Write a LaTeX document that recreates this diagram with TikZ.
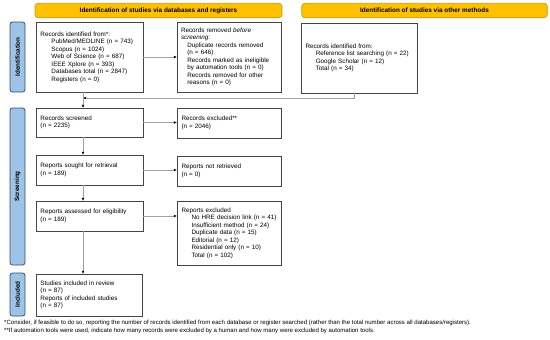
\documentclass[tikz,border=0pt]{standalone}
\usepackage{fontspec}
\setmainfont{Liberation Sans}
\usetikzlibrary{arrows.meta}
\definecolor{hdr}{HTML}{FFC000}
\definecolor{hdrline}{HTML}{C89B10}
\definecolor{side}{HTML}{9DC3E6}
\definecolor{sideline}{HTML}{34506E}
\definecolor{boxline}{HTML}{444444}
\definecolor{conn}{HTML}{A0A0A0}
\begin{document}
\begin{tikzpicture}[x=1pt,y=-1pt,
  box/.style={draw=boxline, line width=0.8pt, fill=white, anchor=north west,
    inner xsep=4.5pt, inner ysep=0pt, outer sep=0pt, align=left,
    font=\fontsize{6.3}{7.5}\selectfont},
  hdrbox/.style={draw=hdrline, fill=hdr, line width=0.6pt, rounded corners=3pt,
    minimum height=14.5pt, inner sep=0pt, outer sep=0pt,
    font=\bfseries\fontsize{6.4}{7.5}\selectfont},
  sidebar/.style={draw=sideline, fill=side, line width=0.8pt, rounded corners=2.5pt,
    rotate=90, minimum height=15pt, inner sep=0pt, outer sep=0pt,
    font=\bfseries\fontsize{6.3}{7.5}\selectfont},
  arr/.style={draw=conn, line width=0.7pt, -{Latex[length=3.2pt,width=2.8pt,color=black]}},
  note/.style={anchor=west, inner sep=0pt, font=\fontsize{6.05}{7}\selectfont}
]
\useasboundingbox (0,0) rectangle (550,340);

% headers
\node[hdrbox, minimum width=247pt] (h1) at (158.5,10.5) {Identification of studies via databases and registers};
\node[hdrbox, minimum width=245.5pt] (h2) at (424.5,10.5) {Identification of studies via other methods};

% side bars
\node[sidebar, minimum width=70pt] (s1) at (17.5,57) {Identification};
\node[sidebar, minimum width=157pt] (s2) at (17.5,186.5) {Screening};
\node[sidebar, minimum width=43pt] (s3) at (17.5,294.5) {Included};

% identification
\node[box, text width=98pt, minimum height=70pt] (b1) at (36,22)
 {Records identified from*:\\
 \hspace*{11pt}PubMed/MEDLINE (n = 743)\\
 \hspace*{11pt}Scopus (n = 1024)\\
 \hspace*{11pt}Web of Science (n = 687)\\
 \hspace*{11pt}IEEE Xplore (n = 393)\\
 \hspace*{11pt}Databases total (n = 2847)\\
 \hspace*{11pt}Registers (n = 0)};
\node[box, text width=96pt, minimum height=70pt, inner xsep=4pt] (b2) at (177,22)
 {Records removed \textit{before}\\
 \textit{screening}:\\
 \hspace*{6.3pt}Duplicate records removed\\
 \hspace*{6.3pt}(n = 646)\\
 \hspace*{6.3pt}Records marked as ineligible\\
 \hspace*{6.3pt}by automation tools (n = 0)\\
 \hspace*{6.3pt}Records removed for other\\
 \hspace*{6.3pt}reasons (n = 0)};
\node[box, text width=107pt, minimum height=70pt] (b3) at (301,23)
 {Records identified from:\\
 \hspace*{10.3pt}Reference list searching (n = 22)\\
 \hspace*{10.3pt}Google Scholar (n = 12)\\
 \hspace*{10.3pt}Total (n = 34)};

% screening
\node[box, text width=98pt, minimum height=29pt] (sc) at (36,108)
 {Records screened\\(n = 2235)};
\node[box, text width=95pt, minimum height=30pt] (ex) at (177,108)
 {Records excluded**\\(n = 2046)};
\node[box, text width=98pt, minimum height=30pt] (so) at (36,155)
 {Reports sought for retrieval\\(n = 189)};
\node[box, text width=95pt, minimum height=30pt] (nr) at (177,156)
 {Reports not retrieved\\(n = 0)};
\node[box, text width=98pt, minimum height=30pt] (as) at (36,201)
 {Reports assessed for eligibility\\(n = 189)};
\node[box, text width=95pt, minimum height=64pt] (rx) at (177,201)
 {Reports excluded\\
 \hspace*{10pt}No HRE decision link (n = 41)\\
 \hspace*{10pt}Insufficient method (n = 24)\\
 \hspace*{10pt}Duplicate data (n = 15)\\
 \hspace*{10pt}Editorial (n = 12)\\
 \hspace*{10pt}Residential only (n = 10)\\
 \hspace*{10pt}Total (n = 102)};

% included
\node[box, text width=97pt, minimum height=42pt] (inc) at (36,274)
 {Studies included in review\\(n = 87)\\Reports of included studies\\(n = 87)};

% connector coordinates
\coordinate (vx) at (83,0);
\coordinate (jx) at (354,0);
\coordinate (jn) at (83,98);

% horizontal arrows
\draw[arr] (b1.east) -- (b2.west);
\draw[arr] (sc.east) -- (sc.east -| ex.west);
\draw[arr] (so.east) -- (so.east -| nr.west);
\draw[arr] (as.east) -- (as.east -| rx.west);

% vertical arrows
\draw[arr] (b1.south -| vx) -- (sc.north -| vx);
\draw[arr] (sc.south -| vx) -- (so.north -| vx);
\draw[arr] (so.south -| vx) -- (as.north -| vx);
\draw[arr] (as.south -| vx) -- (inc.north -| vx);
\draw[arr] (b3.south -| jx) |- (jn);

% footnotes
\node[note] (f1) at (4,323) {*Consider, if feasible to do so, reporting the number of records identified from each database or register searched (rather than the total number across all databases/registers).};
\node[note] (f2) at (4,331) {**If automation tools were used, indicate how many records were excluded by a human and how many were excluded by automation tools.};
\end{tikzpicture}
\end{document}
